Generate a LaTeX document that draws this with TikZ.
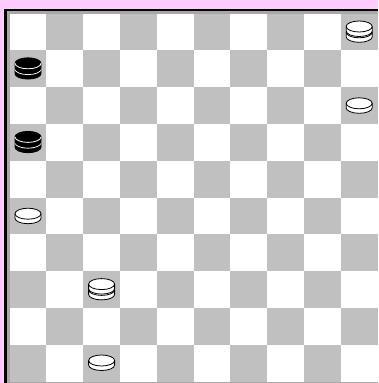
\documentclass[tikz,border=0pt]{standalone}
\definecolor{pinkbg}{HTML}{FFCCFF}
\definecolor{darksq}{HTML}{C0C0C0}
\definecolor{rimgray}{HTML}{A8A8A8}
\newcommand\mydisk[4]{%
  \filldraw[fill=#3, draw=black] (-13,#1) -- ++(0,-#2)
     arc[start angle=180,end angle=360,x radius=13pt,y radius=5.5pt]
     -- ++(0,#2)
     arc[start angle=0,end angle=180,x radius=13pt,y radius=5.5pt] -- cycle;
  \draw[#4] (-13,#1) arc[start angle=180,end angle=360,x radius=13pt,y radius=5.5pt];
}
\tikzset{
  wman/.pic={\mydisk{2.3}{4.5}{white}{black}},
  bman/.pic={\mydisk{2.3}{4.5}{black}{white}},
  wking/.pic={\mydisk{-0.3}{4.5}{white}{black}\mydisk{5.5}{4.5}{white}{black}},
  bking/.pic={\mydisk{-0.3}{4.5}{black}{white}\mydisk{5.5}{4.5}{black}{white}},
}
\begin{document}
\begin{tikzpicture}[x=1pt,y=1pt,line width=0.8pt]
\useasboundingbox (0,0) rectangle (378,383);
\fill[pinkbg] (0,0) rectangle (378,383);
% frame
\fill[black] (4,0) rectangle (378,374);
\fill[rimgray] (6.8,0) rectangle (378,371.5);
\fill[white] (9.6,1.4) rectangle (378,369.4);
% squares
\foreach \r in {0,...,9}{
  \foreach \c in {0,...,9}{
    \pgfmathtruncatemacro\sqpar{mod(\r+\c,2)}
    \ifnum\sqpar=1
      \fill[darksq] ({9.6+36.8*\c},{369.4-36.8*\r}) rectangle ++(36.8,-36.8);
    \fi
  }
}
% pieces
\pic at (359.2,351) {wking};
\pic at (28,314.2) {bking};
\pic at (359.2,277.4) {wman};
\pic at (28,240.6) {bking};
\pic at (28,167) {wman};
\pic at (101.6,93.4) {wking};
\pic at (101.6,20.2) {wman};
\end{tikzpicture}
\end{document}
